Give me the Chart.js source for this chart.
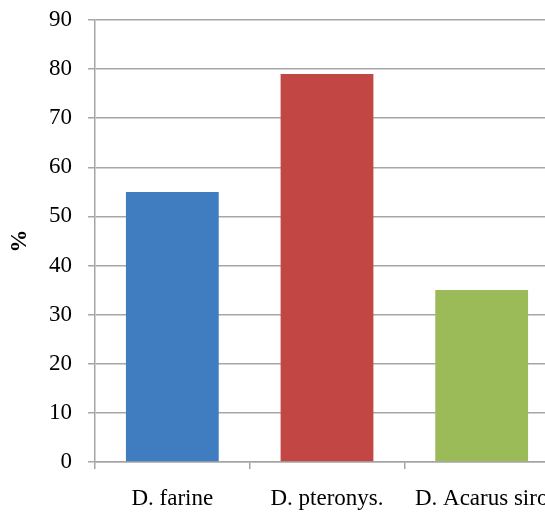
<!DOCTYPE html>
<html lang="en">
<head>
  <meta charset="UTF-8" />
  <title>Mite chart</title>
  <script src="https://cdn.jsdelivr.net/npm/chart.js"></script>
  <style>
    html, body { margin: 0; padding: 0; overflow: hidden; background: #fff; }
    #wrap { width: 570px; height: 512px; }
  </style>
</head>
<body>
  <div id="wrap">
    <canvas id="myChart" width="570" height="512"></canvas>
  </div>
  <script>
    // chart data
    const categories = ['D. farine', 'D. pteronys.', 'D. Acarus siro'];
    const percentValues = [55, 79, 35];
    const barColors = ['#3F7DC0', '#C14644', '#9BBB58'];
    const yTicks = [0, 10, 20, 30, 40, 50, 60, 70, 80, 90];

    const gridGray = '#a6a6a6';
    const font = { family: '"Liberation Serif", "Times New Roman", serif', size: 23 };

    const ctx = document.getElementById('myChart').getContext('2d');
    const myChart = new Chart(ctx, {
      type: 'bar',
      data: {
        labels: categories,
        datasets: [{
          label: '%',
          data: percentValues,
          backgroundColor: barColors,
          borderWidth: 0,
          categoryPercentage: 0.6,
          barPercentage: 1
        }]
      },
      options: {
        responsive: false,
        animation: false,
        layout: { padding: { top: 20, right: 11, left: 0, bottom: 0 } },
        plugins: {
          legend: { display: false },
          tooltip: { enabled: false }
        },
        scales: {
          x: {
            grid: {
              offset: true,
              drawOnChartArea: false,
              drawTicks: true,
              tickLength: 7,
              color: gridGray,
              lineWidth: 1.5
            },
            border: { color: gridGray, width: 1.5 },
            ticks: { color: '#000', font: font, padding: 16, maxRotation: 0 },
            afterFit: function(scale) { scale.height = 50; }
          },
          y: {
            min: 0,
            max: 90,
            afterBuildTicks: function(scale) {
              scale.ticks = yTicks.map(v => ({ value: v }));
            },
            grid: {
              color: gridGray,
              lineWidth: 1.5,
              tickLength: 7
            },
            border: { color: gridGray, width: 1.5 },
            ticks: { color: '#000', font: font, padding: 16 },
            title: {
              display: true,
              text: '%',
              color: '#000',
              font: { family: font.family, size: 23, weight: 'bold' },
              padding: { top: 6, bottom: 0 }
            },
            afterFit: function(scale) {
              scale.width = 95;
              scale.paddingTop = 0;
              scale.paddingBottom = 0;
            }
          }
        }
      }
    });
  </script>
</body>
</html>
